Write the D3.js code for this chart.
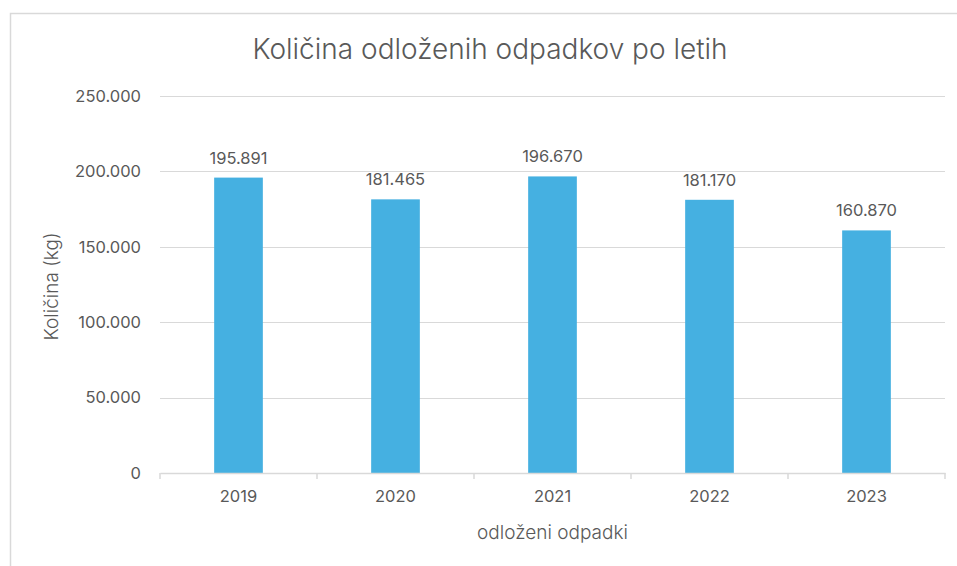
<!DOCTYPE html>
<meta charset="utf-8">
<style>
body { margin: 0; background: #fff; }
svg { font-family: "Inter", "Open Sans", sans-serif; }
.grid line { stroke: #d9d9d9; stroke-width: 1px; }
.bar { fill: #45b0e1; }
.txt { fill: #595959; }
</style>
<body>
<script src="https://cdn.jsdelivr.net/npm/d3@7"></script>
<script>
var width = 957,
    height = 566;

var years = ["2019", "2020", "2021", "2022", "2023"];
var amounts = [195891, 181465, 196670, 181170, 160870];
var yTicks = [0, 50000, 100000, 150000, 200000, 250000];

var margin = {left: 160, right: 12, top: 96, bottom: 93};

// number like 195.891 (Slovene thousands separator)
var fmt = d3.formatLocale({decimal: ",", thousands: ".", grouping: [3], currency: ["", "€"]}).format(",d");

var svg = d3.select("body").append("svg")
    .attr("width", width)
    .attr("height", height);

// chart frame
svg.append("rect")
    .attr("x", 10.5).attr("y", 13.5)
    .attr("width", 960).attr("height", 570)
    .attr("fill", "none")
    .attr("stroke", "#d9d9d9")
    .attr("stroke-width", 1.5);

var x = d3.scaleBand()
    .domain(years)
    .range([margin.left, width - margin.right])
    .paddingInner(0.69)
    .paddingOuter(0.345);

var xCat = d3.scaleBand()
    .domain(years)
    .range([margin.left, width - margin.right]);

var y = d3.scaleLinear()
    .domain([0, 250000])
    .range([height - margin.bottom, margin.top]);

// gridlines
svg.append("g")
    .attr("class", "grid")
    .selectAll("line")
    .data(yTicks.slice(1))
    .join("line")
    .attr("x1", margin.left).attr("x2", width - margin.right)
    .attr("y1", d => Math.round(y(d)) + 0.5).attr("y2", d => Math.round(y(d)) + 0.5);

// y tick labels
var yAxis = svg.append("g")
    .attr("transform", "translate(" + (margin.left - 19) + ",0)")
    .call(d3.axisLeft(y).tickValues(yTicks).tickSize(0).tickPadding(0).tickFormat(fmt));
yAxis.select(".domain").remove();
yAxis.selectAll("text")
    .attr("class", "txt")
    .style("font-size", "16.5px")
    .style("font-family", "Inter, sans-serif");

// bars
svg.append("g")
    .selectAll("rect")
    .data(amounts)
    .join("rect")
    .attr("class", "bar")
    .attr("x", (d, i) => x(years[i]))
    .attr("width", x.bandwidth())
    .attr("y", d => y(d))
    .attr("height", d => y(0) - y(d));

// data labels
svg.append("g")
    .selectAll("text")
    .data(amounts)
    .join("text")
    .attr("class", "txt")
    .attr("x", (d, i) => x(years[i]) + x.bandwidth() / 2)
    .attr("y", d => y(d) - 14)
    .attr("text-anchor", "middle")
    .style("font-size", "16.5px")
    .text(d => fmt(d));

// x axis
var xAxis = svg.append("g")
    .attr("transform", "translate(0," + y(0) + ")")
    .call(d3.axisBottom(xCat).tickSize(0).tickPadding(17));
xAxis.select(".domain").attr("stroke", "#d9d9d9").attr("stroke-width", 1.5);
xAxis.selectAll("text")
    .attr("class", "txt")
    .style("font-size", "16.5px")
    .style("font-family", "Inter, sans-serif");

// category boundary ticks
xAxis.append("g")
    .selectAll("line")
    .data(years.concat(["end"]))
    .join("line")
    .attr("x1", (d, i) => i < years.length ? xCat(d) : width - margin.right)
    .attr("x2", (d, i) => i < years.length ? xCat(d) : width - margin.right)
    .attr("y1", 0).attr("y2", 6)
    .attr("stroke", "#d9d9d9")
    .attr("stroke-width", 1.5);

// title
svg.append("text")
    .attr("class", "txt")
    .attr("x", 490).attr("y", 59)
    .attr("text-anchor", "middle")
    .style("font-size", "28px")
    .style("font-weight", 300)
    .text("Količina odloženih odpadkov po letih");

// axis titles
svg.append("text")
    .attr("class", "txt")
    .attr("transform", "translate(58," + ((y(0) + y(250000)) / 2 + 2) + ") rotate(-90)")
    .attr("text-anchor", "middle")
    .style("font-size", "19px")
    .style("font-weight", 300)
    .text("Količina (kg)");

svg.append("text")
    .attr("class", "txt")
    .attr("x", (margin.left + width - margin.right) / 2)
    .attr("y", 539)
    .attr("text-anchor", "middle")
    .style("font-size", "19px")
    .style("font-weight", 300)
    .text("odloženi odpadki");
</script>
</body>
